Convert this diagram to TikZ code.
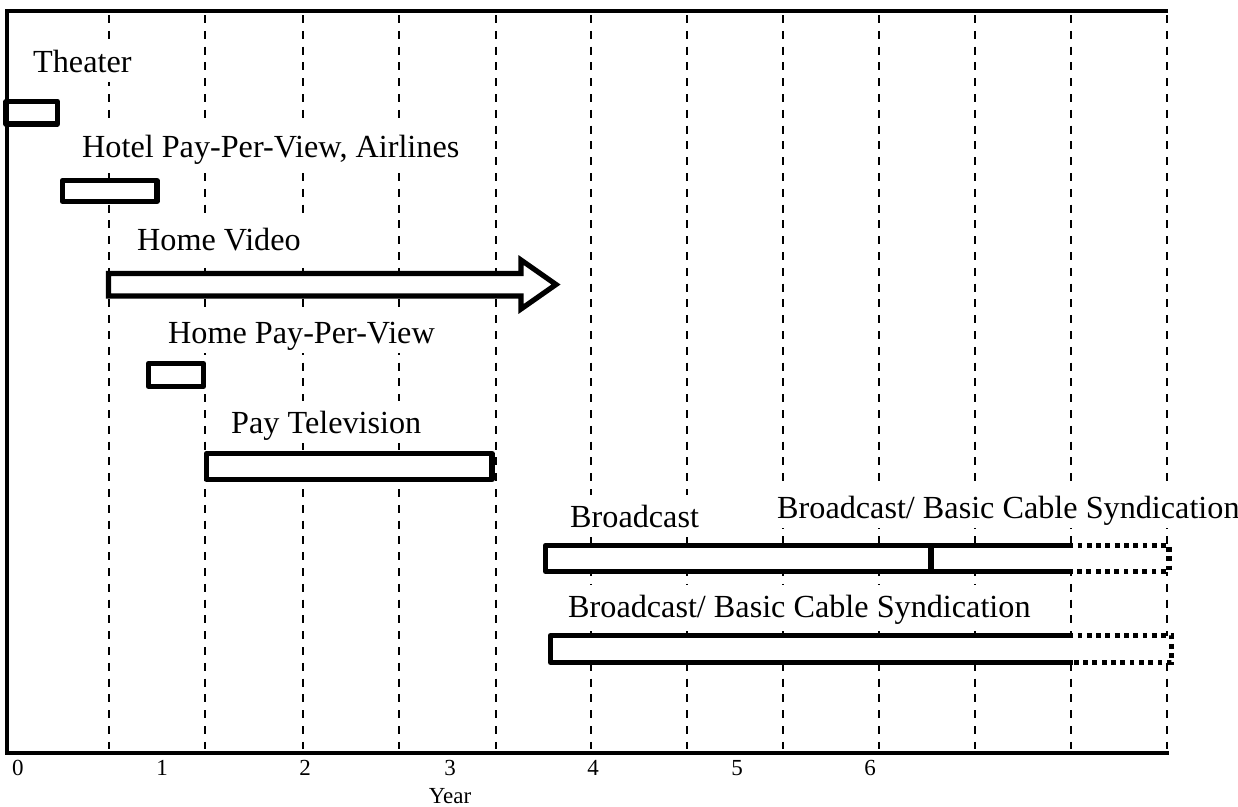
\documentclass[tikz,border=0pt]{standalone}
\usepackage{fontspec}
\setmainfont{Liberation Serif}
\newcommand\labfont{\fontsize{32.2}{36}\selectfont}
\newcommand\axfont{\fontsize{23}{26}\selectfont}
\begin{document}
\begin{tikzpicture}[x=1pt,y=-1pt,
  gridline/.style={line width=1.8pt, dash pattern=on 8pt off 7.8pt},
  framelines/.style={line width=3.8pt},
  barbox/.style={line width=5.2pt, line join=round, fill=white},
  barline/.style={line width=5.2pt, line join=round},
  dotline/.style={line width=5.2pt, dash pattern=on 4.8pt off 4.5pt, dash phase=4.8pt},
  lab/.style={font=\labfont, anchor=base west, fill=white, inner xsep=6pt, inner ysep=0pt, text height=32pt, text depth=10pt},
  tick/.style={font=\axfont, anchor=base, inner sep=0pt}]
\useasboundingbox (0,0) rectangle (1238,806);
% grid
\foreach \x in {109,204.7,302.7,399,495.7,591,686.7,782.7,879,975,1070.7,1167}
  \draw[gridline] (\x,15) -- (\x,749);
% frame
\draw[framelines] (1168,11) -- (7,11) -- (7,752.7) -- (1169,752.7);
% labels
\node[lab] (theater) at (27,72) {Theater};
\node[lab] (hotel) at (76,157) {Hotel Pay-Per-View, Airlines};
\node[lab] (homevideo) at (131,250) {Home Video};
\node[lab] (homeppv) at (162,343.3) {Home Pay-Per-View};
\node[lab] (paytv) at (225,433.3) {Pay Television};
\node[lab] (broadcast) at (564,527) {Broadcast};
\node[lab] (synd1) at (771,518) {Broadcast/ Basic Cable Syndication};
\node[lab] (synd2) at (562,617) {Broadcast/ Basic Cable Syndication};
% bars
\draw[barbox] (6,101.5) rectangle (57.5,124);
\draw[barbox] (62.5,180.5) rectangle (157,201.5);
\draw[barbox, line join=miter] (108.5,273.5) -- (521,273.5) -- (521,260) -- (556,284.5) -- (521,309) -- (521,296) -- (108.5,296) -- cycle;
\draw[barbox] (148.5,363.5) rectangle (203.5,386.5);
\draw[barbox] (206.5,453.5) rectangle (492,479.5);
% broadcast bar
\fill[white] (545.5,545.5) rectangle (1169,571.5);
\draw[barline] (1073,545.5) -- (545.5,545.5) -- (545.5,571.5) -- (1073,571.5);
\draw[dotline] (1073,545.5) -- (1169,545.5) -- (1169,571.5) -- (1073,571.5);
\draw[line width=5.2pt] (931,545.5) -- (931,571.5);
% syndication bar
\fill[white] (550.5,635.5) rectangle (1171.5,662.5);
\draw[barline] (1073,635.5) -- (550.5,635.5) -- (550.5,662.5) -- (1073,662.5);
\draw[dotline] (1073,635.5) -- (1171.5,635.5) -- (1171.5,662.5) -- (1073,662.5);
% axis labels
\node[tick] (t0) at (18,775) {0};
\node[tick] (t1) at (162,775) {1};
\node[tick] (t2) at (305,775) {2};
\node[tick] (t3) at (450,775) {3};
\node[tick] (t4) at (593,775) {4};
\node[tick] (t5) at (737,775) {5};
\node[tick] (t6) at (870,775) {6};
\node[tick] (year) at (450,803) {Year};
\end{tikzpicture}
\end{document}
